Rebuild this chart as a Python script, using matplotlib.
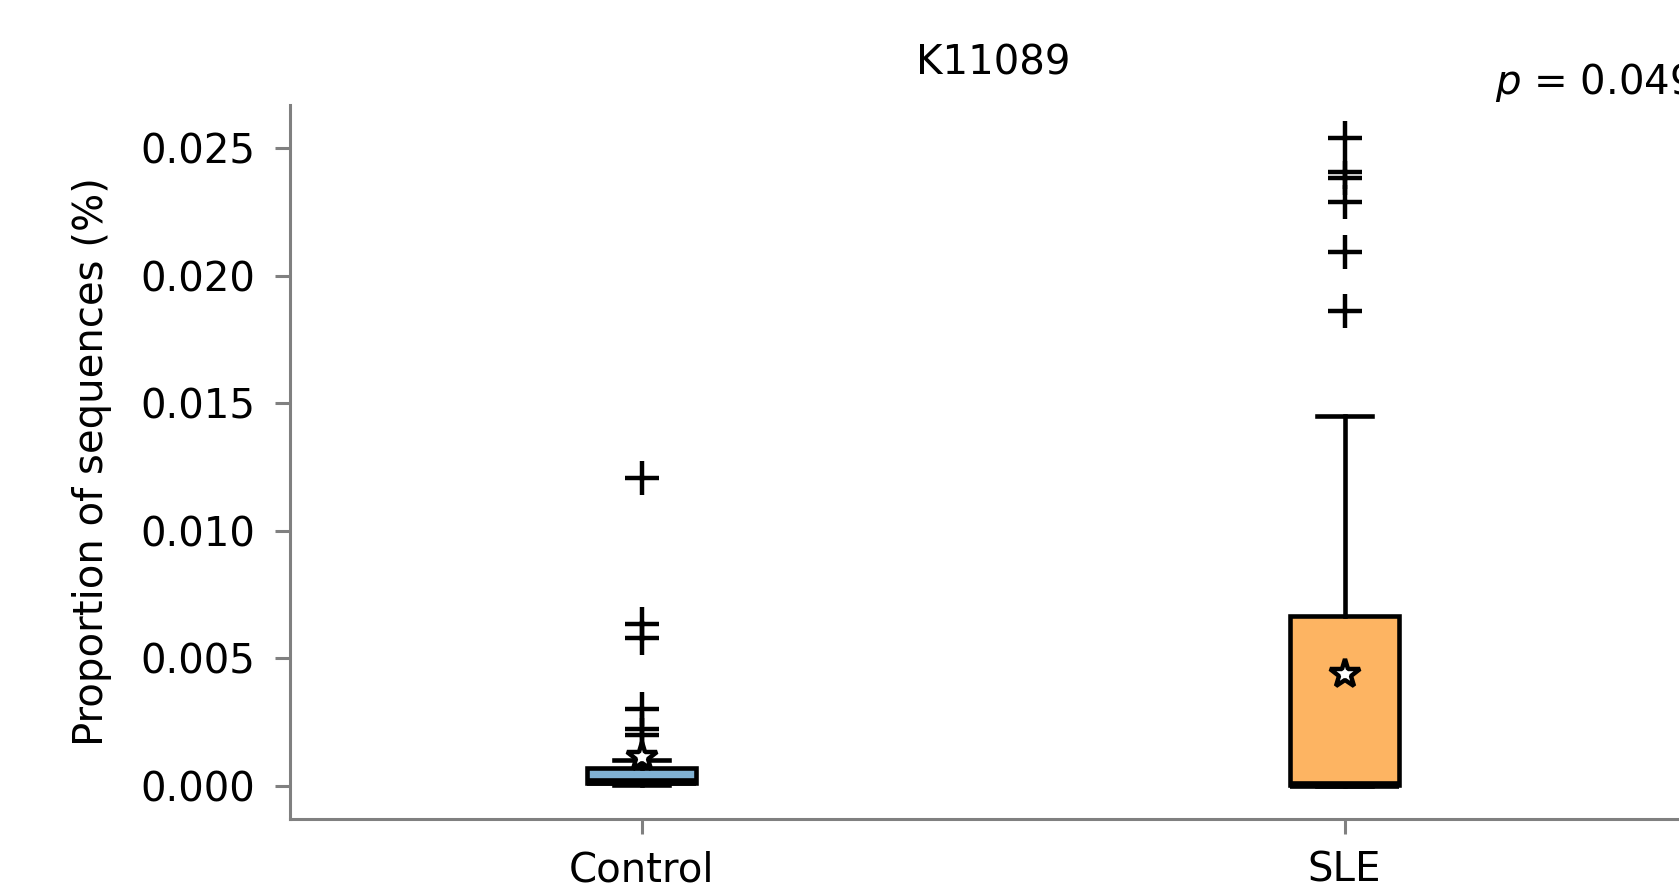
import matplotlib
matplotlib.use('Agg')
import matplotlib.pyplot as plt

groups = ['Control', 'SLE']
colors = ['#80b1d3', '#fdb462']

# box statistics (proportion, %)
q1 = [0.00014, 0.00005]
med = [0.00015, 0.00006]
q3 = [0.00071, 0.00666]
whislo = [0.00005, 0.00000]
whishi = [0.00102, 0.01452]
means = [0.00114, 0.00441]
fliers = [
    [0.01207, 0.00635, 0.00580, 0.00302, 0.00224, 0.00200],
    [0.02539, 0.02406, 0.02382, 0.02288, 0.02093, 0.01862],
]
p_text = r'$p$ = 0.049'
title = 'K11089'

plt.rcParams['font.family'] = 'DejaVu Sans'
plt.rcParams['font.size'] = 29

fig = plt.figure(figsize=(16.79, 8.92), dpi=100)
ax = fig.add_axes([290 / 1679, 1 - 819 / 892, (1696 - 290) / 1679, (819 - 105) / 892])

stats = []
for i in range(len(groups)):
    stats.append(dict(label=groups[i], q1=q1[i], med=med[i], q3=q3[i],
                      whislo=whislo[i], whishi=whishi[i], mean=means[i],
                      fliers=fliers[i]))

bp = ax.bxp(stats, widths=0.155, patch_artist=True, showmeans=True,
            boxprops=dict(linewidth=3.3, edgecolor='black'),
            medianprops=dict(color='black', linewidth=5.5),
            whiskerprops=dict(color='black', linewidth=3.3),
            capprops=dict(color='black', linewidth=3.3),
            flierprops=dict(marker='+', markersize=24, markeredgewidth=3.2,
                            markeredgecolor='black'),
            meanprops=dict(marker='*', markersize=22, markerfacecolor='white',
                           markeredgecolor='black', markeredgewidth=3.2))
for patch, c in zip(bp['boxes'], colors):
    patch.set_facecolor(c)

ax.set_xlim(0.5, 2.5)
ax.set_ylim(-0.00129, 0.02669)
ax.set_yticks([0, 0.005, 0.010, 0.015, 0.020, 0.025])
ax.set_yticklabels(['0.000', '0.005', '0.010', '0.015', '0.020', '0.025'])

for s in ['top', 'right']:
    ax.spines[s].set_visible(False)
for s in ['left', 'bottom']:
    ax.spines[s].set_color('gray')
    ax.spines[s].set_linewidth(2.2)
ax.tick_params(axis='both', colors='gray', length=11, width=2.2, labelcolor='black')
ax.tick_params(axis='y', pad=14)
ax.tick_params(axis='x', pad=12)

ax.set_ylabel('Proportion of sequences (%)', labelpad=20)
ax.set_title(title, pad=22, fontsize=29)
fig.text(1495 / 1679, 1 - 82 / 892, p_text, ha='left', va='center', fontsize=29)

fig.savefig('out.png', dpi=100)
